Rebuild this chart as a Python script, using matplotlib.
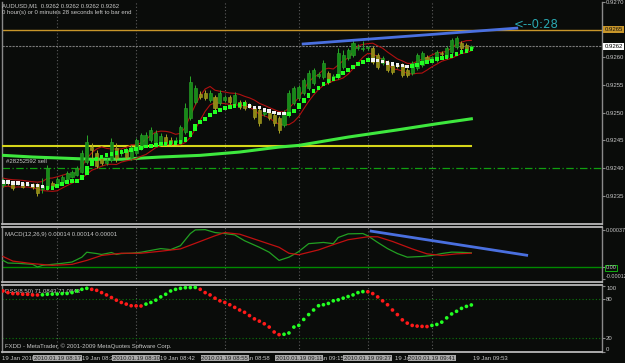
import numpy as np
import pandas as pd
import matplotlib
matplotlib.use("Agg")
import matplotlib.pyplot as plt

plt.rcParams['font.family'] = ['Liberation Sans', 'DejaVu Sans']

# ---- AUDUSD M1 bars ----
opens = [0.92369, 0.92375, 0.92375, 0.92371, 0.92373, 0.92369, 0.92371, 0.92371, 0.92362, 0.92364,
         0.92373, 0.92369, 0.92375, 0.92380, 0.92384, 0.92387, 0.92393, 0.92411, 0.92438, 0.92427,
         0.92418, 0.92409, 0.92414, 0.92436, 0.92427, 0.92432, 0.92418, 0.92427, 0.92436, 0.92441,
         0.92450, 0.92448, 0.92445, 0.92456, 0.92450, 0.92448, 0.92447, 0.92465, 0.92490, 0.92520,
         0.92534, 0.92536, 0.92523, 0.92528, 0.92518, 0.92523, 0.92528, 0.92518, 0.92520, 0.92520,
         0.92514, 0.92509, 0.92505, 0.92498, 0.92499, 0.92496, 0.92490, 0.92478, 0.92496, 0.92518,
         0.92527, 0.92536, 0.92545, 0.92554, 0.92566, 0.92565, 0.92572, 0.92565, 0.92565, 0.92583,
         0.92599, 0.92604, 0.92617, 0.92615, 0.92617, 0.92617, 0.92604, 0.92590, 0.92592, 0.92586,
         0.92586, 0.92586, 0.92577, 0.92572, 0.92581, 0.92586, 0.92601, 0.92599, 0.92595, 0.92608,
         0.92601, 0.92610, 0.92619, 0.92626, 0.92623, 0.92617]
highs = [0.92382, 0.92378, 0.92377, 0.92377, 0.92375, 0.92375, 0.92373, 0.92373, 0.92382, 0.92405,
         0.92377, 0.92384, 0.92387, 0.92395, 0.92396, 0.92404, 0.92432, 0.92460, 0.92445, 0.92432,
         0.92423, 0.92418, 0.92454, 0.92445, 0.92434, 0.92436, 0.92441, 0.92454, 0.92463, 0.92465,
         0.92474, 0.92469, 0.92463, 0.92461, 0.92456, 0.92456, 0.92478, 0.92518, 0.92566, 0.92550,
         0.92539, 0.92541, 0.92541, 0.92532, 0.92541, 0.92532, 0.92532, 0.92538, 0.92523, 0.92523,
         0.92518, 0.92512, 0.92509, 0.92505, 0.92503, 0.92499, 0.92494, 0.92505, 0.92541, 0.92548,
         0.92550, 0.92563, 0.92577, 0.92581, 0.92574, 0.92595, 0.92575, 0.92570, 0.92617, 0.92614,
         0.92617, 0.92632, 0.92624, 0.92630, 0.92621, 0.92621, 0.92608, 0.92603, 0.92595, 0.92590,
         0.92590, 0.92590, 0.92581, 0.92594, 0.92608, 0.92612, 0.92604, 0.92603, 0.92614, 0.92612,
         0.92621, 0.92635, 0.92639, 0.92630, 0.92626, 0.92623]
lows = [0.92366, 0.92369, 0.92360, 0.92369, 0.92364, 0.92367, 0.92362, 0.92349, 0.92355, 0.92360,
        0.92364, 0.92367, 0.92373, 0.92378, 0.92382, 0.92386, 0.92391, 0.92407, 0.92414, 0.92400,
        0.92405, 0.92405, 0.92411, 0.92411, 0.92422, 0.92416, 0.92414, 0.92423, 0.92432, 0.92438,
        0.92447, 0.92445, 0.92441, 0.92441, 0.92441, 0.92445, 0.92443, 0.92461, 0.92487, 0.92516,
        0.92525, 0.92523, 0.92520, 0.92505, 0.92514, 0.92520, 0.92516, 0.92514, 0.92507, 0.92505,
        0.92509, 0.92488, 0.92476, 0.92494, 0.92487, 0.92476, 0.92463, 0.92474, 0.92492, 0.92514,
        0.92523, 0.92532, 0.92541, 0.92550, 0.92563, 0.92561, 0.92552, 0.92561, 0.92561, 0.92579,
        0.92595, 0.92601, 0.92614, 0.92612, 0.92614, 0.92588, 0.92579, 0.92586, 0.92574, 0.92570,
        0.92581, 0.92565, 0.92565, 0.92568, 0.92577, 0.92583, 0.92592, 0.92595, 0.92592, 0.92603,
        0.92597, 0.92606, 0.92615, 0.92614, 0.92610, 0.92615]
closes = [0.92377, 0.92373, 0.92364, 0.92373, 0.92366, 0.92371, 0.92366, 0.92355, 0.92367, 0.92400,
          0.92367, 0.92380, 0.92384, 0.92391, 0.92393, 0.92400, 0.92427, 0.92447, 0.92432, 0.92404,
          0.92409, 0.92413, 0.92447, 0.92418, 0.92428, 0.92420, 0.92438, 0.92450, 0.92460, 0.92460,
          0.92469, 0.92463, 0.92458, 0.92445, 0.92445, 0.92450, 0.92474, 0.92509, 0.92556, 0.92545,
          0.92528, 0.92527, 0.92536, 0.92509, 0.92536, 0.92528, 0.92520, 0.92532, 0.92510, 0.92509,
          0.92512, 0.92492, 0.92481, 0.92501, 0.92490, 0.92481, 0.92469, 0.92501, 0.92536, 0.92545,
          0.92547, 0.92559, 0.92572, 0.92577, 0.92570, 0.92590, 0.92556, 0.92566, 0.92608, 0.92604,
          0.92614, 0.92626, 0.92619, 0.92617, 0.92618, 0.92592, 0.92583, 0.92599, 0.92577, 0.92574,
          0.92585, 0.92568, 0.92568, 0.92590, 0.92604, 0.92608, 0.92595, 0.92600, 0.92610, 0.92606,
          0.92617, 0.92632, 0.92635, 0.92617, 0.92614, 0.92620]

# trailing-stop style indicator (green = up, white = down)
trail = [0.92375, 0.92375, 0.92373, 0.92373, 0.92371, 0.92371, 0.92369, 0.92369, 0.92367, 0.92362,
         0.92366, 0.92369, 0.92373, 0.92375, 0.92377, 0.92378, 0.92387, 0.92404, 0.92416, 0.92416,
         0.92423, 0.92423, 0.92427, 0.92429, 0.92429, 0.92431, 0.92434, 0.92436, 0.92438, 0.92440,
         0.92441, 0.92443, 0.92443, 0.92445, 0.92445, 0.92447, 0.92448, 0.92456, 0.92467, 0.92480,
         0.92487, 0.92492, 0.92498, 0.92503, 0.92507, 0.92510, 0.92512, 0.92514, 0.92514, 0.92516,
         0.92512, 0.92510, 0.92509, 0.92505, 0.92503, 0.92501, 0.92499, 0.92498, 0.92499, 0.92507,
         0.92518, 0.92527, 0.92536, 0.92543, 0.92548, 0.92554, 0.92559, 0.92563, 0.92568, 0.92574,
         0.92579, 0.92585, 0.92590, 0.92594, 0.92597, 0.92595, 0.92594, 0.92592, 0.92590, 0.92588,
         0.92586, 0.92585, 0.92583, 0.92585, 0.92588, 0.92590, 0.92592, 0.92595, 0.92599, 0.92599,
         0.92601, 0.92604, 0.92608, 0.92610, 0.92614, 0.92615]
trail_down = list(range(0, 9)) + list(range(50, 58)) + list(range(75, 83))

ma_bars = [0, 6, 12, 18, 24, 32, 40, 48, 56, 60, 70, 80, 88, 95]
ma_vals = [0.92423, 0.92420, 0.92418, 0.92416, 0.92416, 0.92420, 0.92423, 0.92429,
           0.92438, 0.92441, 0.92456, 0.92469, 0.92480, 0.92489]

# horizontal / trend lines in the price window
bid = 0.9262
alert_level = 0.9265
yellow_level = 0.92440
sell_level = 0.9240
trend_x = [60.6, 104.5]
trend_y = [0.92624, 0.92653]

# MACD(12,26,9)
macd_bars = [0, 1, 3, 6, 7, 8, 10, 12, 14, 16, 17, 19, 20, 22, 23, 24, 26, 28, 32, 34, 36, 38, 39,
             41, 43, 45, 47, 49, 52, 54, 56, 58, 59, 60, 62, 65, 67, 68, 70, 73, 74, 76, 78, 80,
             82, 85, 87, 89, 91, 93, 95]
macd_main = [0.000068, 0.000042, 0.000039, 0.000029, 0.000003, 0.000019, 0.000029, 0.000039,
             0.000052, 0.000100, 0.000149, 0.000136, 0.000127, 0.000146, 0.000127, 0.000136,
             0.000139, 0.000149, 0.000185, 0.000175, 0.000214, 0.000334, 0.000370, 0.000373,
             0.000344, 0.000334, 0.000321, 0.000263, 0.000198, 0.000149, 0.000068, 0.000100,
             0.000127, 0.000156, 0.000234, 0.000246, 0.000234, 0.000295, 0.000331, 0.000334,
             0.000312, 0.000246, 0.000185, 0.000136, 0.000100, 0.000107, 0.000117, 0.000136,
             0.000150, 0.000148, 0.000143]
sig_bars = [0, 2, 6, 10, 14, 17, 20, 24, 28, 32, 36, 40, 43, 45, 48, 52, 56, 58, 60, 64, 67, 70,
            74, 76, 79, 83, 86, 89, 92, 95]
macd_signal = [0.000107, 0.000061, 0.000036, 0.000019, 0.000029, 0.000068, 0.000117, 0.000139,
               0.000139, 0.000159, 0.000182, 0.000256, 0.000312, 0.000344, 0.000328, 0.000263,
               0.000198, 0.000139, 0.000124, 0.000172, 0.000224, 0.000273, 0.000302, 0.000302,
               0.000256, 0.000182, 0.000133, 0.000117, 0.000133, 0.000139]
macd_trend_x = [74.4, 106.5]
macd_trend_y = [0.000360, 0.000117]

# DSS(8,50)
dss = [92.4, 89.9, 88.4, 88.3, 87.4, 87.3, 86.4, 86.3, 86.6, 87.4,
       87.6, 87.8, 88.4, 88.6, 89.9, 92.4, 94.9, 96.4, 94.9, 93.4,
       89.9, 86.4, 82.4, 78.4, 74.9, 72.4, 69.9, 69.7, 69.5, 72.4,
       74.9, 78.4, 83.4, 87.4, 92.4, 94.9, 96.4, 97.4, 97.6, 97.8,
       94.9, 89.9, 86.4, 81.4, 77.4, 74.9, 71.4, 67.4, 63.4, 59.9,
       54.9, 49.9, 46.4, 42.4, 37.4, 29.9, 25.9, 26.4, 28.4, 37.4,
       40.0, 49.0, 56.4, 63.4, 69.9, 71.4, 73.4, 77.4, 78.9, 81.4,
       83.9, 86.4, 89.9, 91.4, 91.2, 88.4, 83.4, 77.4, 71.4, 63.4,
       56.4, 48.4, 43.4, 39.9, 38.9, 38.4, 38.2, 39.9, 41.4, 44.9,
       51.4, 57.4, 61.4, 65.9, 68.9, 71.08]

# vertical line objects and time axis
vline_bars = [11, 27, 45, 60, 74, 87]
vline_labels = ["2010.01.19 08:17", "2010.01.19 08:30", "2010.01.19 08:55",
                "2010.01.19 09:11", "2010.01.19 09:27", "2010.01.19 09:41"]
time_bars = [-0.2, 16, 31.8, 47, 62, 79.5, 95.3]
time_labels = ["19 Jan 2010", "19 Jan 08:26", "19 Jan 08:42", "19 Jan 08:58",
               "19 Jan 09:15", "19 Jan 09:41", "19 Jan 09:53"]

BG = '#0a0c0a'
TXT = '#c8c8c8'
FRAME = '#8a8a8a'
SEP = '#5c5c5c'
FS = 4.3

fig = plt.figure(figsize=(6.25, 3.63), dpi=100, facecolor=BG)
W, H = 625.0, 363.0
ax1 = fig.add_axes([2 / W, 1 - 224 / H, 600 / W, 222 / H])
ax2 = fig.add_axes([2 / W, 1 - 282 / H, 600 / W, 55 / H])
ax3 = fig.add_axes([2 / W, 1 - 352 / H, 600 / W, 67 / H])

for ax in (ax1, ax2, ax3):
    ax.set_facecolor(BG)
    ax.set_xlim(-0.2, 121.5)
    ax.set_xticks([])
    ax.yaxis.tick_right()
    ax.tick_params(axis='y', colors=FRAME, labelcolor=TXT, labelsize=FS, length=2, pad=1)
    for s in ax.spines.values():
        s.set_color(FRAME)
        s.set_linewidth(1)
    ax.spines['top'].set_color('#b8b8b8')
    ax.spines['bottom'].set_color('#b8b8b8')
    ax.spines['top'].set_linewidth(1.3)
    ax.spines['bottom'].set_linewidth(1.3)
    for b in vline_bars:
        ax.axvline(b, color=SEP, lw=0.8, ls=(0, (1, 2)), zorder=1)
ax1.spines['top'].set_visible(False)

x = np.arange(len(closes))
o = np.array(opens); h = np.array(highs); l = np.array(lows); c = np.array(closes)

# ---- price window ----
ax1.set_ylim(0.92299, 0.92700)
ax1.axhline(alert_level, color='#c8962a', lw=1, zorder=2)
ax1.axhline(bid, color='#7a7a7a', lw=0.8, ls=(0, (2, 1)), zorder=2)
ax1.axhline(sell_level, color='#10a010', lw=0.9, ls=(0, (6, 2, 1, 2)), zorder=2)
ax1.plot([-0.2, 95], [yellow_level, yellow_level], color='#d6d61a', lw=1.5, zorder=3)
ax1.plot(ma_bars, ma_vals, color='#3ee83e', lw=2.2, zorder=3)

# high / low channel
ax1.plot(x, pd.Series(highs).rolling(5, min_periods=1).mean(), color='#b01010', lw=0.8, zorder=4)
ax1.plot(x, pd.Series(lows).rolling(5, min_periods=1).mean(), color='#b01010', lw=0.8, zorder=4)

# candles
up = c >= o
body_col = np.where(up, '#178a17', '#8e8814')
edge_col = np.where(up, '#2aa82a', '#aaa424')
ax1.vlines(x, l, h, colors=edge_col, lw=0.7, zorder=5)
ax1.bar(x, np.maximum(np.abs(c - o), 0.000018), bottom=np.minimum(o, c), width=0.62,
        color=body_col, edgecolor=edge_col, lw=0.4, zorder=6)

# trail indicator
tr = np.array(trail)
prev = np.r_[tr[0], tr[:-1]]
down = np.isin(x, trail_down)
lo = np.minimum(prev, tr); hi = np.maximum(prev, tr)
mid = (lo + hi) / 2
half = np.maximum((hi - lo) / 2, 0.000036)
ax1.bar(x[~down], 2 * half[~down], bottom=(mid - half)[~down], width=0.72,
        color='#22ff22', lw=0, zorder=7)
ax1.bar(x[down], 0.00006, bottom=tr[down] - 0.00003, width=0.72, color='#f2f2f2', lw=0, zorder=7)

ax1.plot(trend_x, trend_y, color='#4a70e0', lw=2, solid_capstyle='butt', zorder=8)
ax1.text(103.6, 0.92660, "<--0:28", color='#2aa8b0', fontsize=8.5, va='center', ha='left',
         family=['DejaVu Sans'])

ax1.set_yticks([0.9235, 0.9240, 0.9245, 0.9250, 0.9255, 0.9260, 0.9270])
ax1.set_yticklabels(['%.4f' % v for v in [0.9235, 0.9240, 0.9245, 0.9250, 0.9255, 0.9260, 0.9270]])
ytr = ax1.get_yaxis_transform()
ax1.text(1.004, alert_level, "%.4f" % alert_level, transform=ytr, fontsize=FS, color='#101010',
         va='center', ha='left', bbox=dict(facecolor='#c8962a', edgecolor='none', pad=0.8))
ax1.text(1.004, bid, "%.4f" % bid, transform=ytr, fontsize=FS, color='#000000',
         va='center', ha='left', bbox=dict(facecolor='#ffffff', edgecolor='none', pad=0.8))

ax1.text(0.007, sell_level + 0.00011, "#28252592 sell", color=TXT, fontsize=FS,
         transform=ytr, va='center', ha='left')
fig.text(2 / W, 1 - 5.5 / H, "AUDUSD,M1  0.9262 0.9262 0.9262 0.9262", color=TXT,
         fontsize=FS, va='center', ha='left')
fig.text(2 / W, 1 - 12.5 / H, "0 hour(s) or 0 minutes 28 seconds left to bar end", color=TXT,
         fontsize=FS, va='center', ha='left')

# ---- MACD window ----
ax2.set_ylim(-0.000146, 0.000399)
ax2.axhline(0, color='#008a00', lw=1, zorder=2)
ax2.plot(macd_bars, macd_main, color='#22a022', lw=0.9, zorder=3)
ax2.plot(sig_bars, macd_signal, color='#c01010', lw=0.9, zorder=3)
ax2.plot(macd_trend_x, macd_trend_y, color='#4a70e0', lw=2, solid_capstyle='butt', zorder=4)
ax2.set_yticks([0.00037, 0.0, -0.00012])
ax2.set_yticklabels(['0.00037', '0.00', '-0.00012'])
ax2.tick_params(axis='y', labelsize=3.9, pad=0.6)
ax2.get_yticklabels()[1].set_bbox(dict(facecolor=BG, edgecolor='#10b010', pad=0.4, lw=0.7))
ax2.get_yticklabels()[2].set_va('bottom')
ax2.text(0.005, 0.86, "MACD(12,26,9) 0.00014 0.00014 0.00001", transform=ax2.transAxes,
         color=TXT, fontsize=FS, va='center', ha='left')

# ---- DSS window ----
ax3.set_ylim(-0.6, 101.5)
for lev in (80, 20):
    ax3.axhline(lev, color='#0a7a0a', lw=0.8, ls=(0, (1, 2)), zorder=2)
d = np.array(dss)
rising = np.r_[False, np.diff(d) > 0]
ax3.scatter(x, d, s=7, c=np.where(rising, '#22ff22', '#ff1a1a'), linewidths=0, zorder=4)
ax3.set_yticks([100, 80, 20, 0])
ax3.set_yticklabels(['100', '80', '20', '0'])
ax3.get_yticklabels()[0].set_va('top')
ax3.get_yticklabels()[3].set_va('bottom')
ax3.text(0.005, 0.9, "DSS(8,50) 71.0843 71.0843", transform=ax3.transAxes,
         color=TXT, fontsize=FS, va='center', ha='left', zorder=3)
ax3.text(0.005, 0.08, "FXDD - MetaTrader, \u00a9 2001-2009 MetaQuotes Software Corp.",
         transform=ax3.transAxes, color=TXT, fontsize=FS, va='center', ha='left')

# time axis
xtr = ax3.get_xaxis_transform()
for b, lab in zip(time_bars, time_labels):
    ax3.text(b, -0.09, lab, transform=xtr, color=TXT, fontsize=FS, va='center', ha='left',
             zorder=5)
for b, lab in zip(vline_bars, vline_labels):
    ax3.text(b, -0.09, lab, transform=xtr, color='#202020', fontsize=FS, va='center',
             ha='center', zorder=6,
             bbox=dict(facecolor='#a8a8a8', edgecolor='none', pad=0.6))

fig.savefig("out.png", dpi=100, facecolor=BG)
